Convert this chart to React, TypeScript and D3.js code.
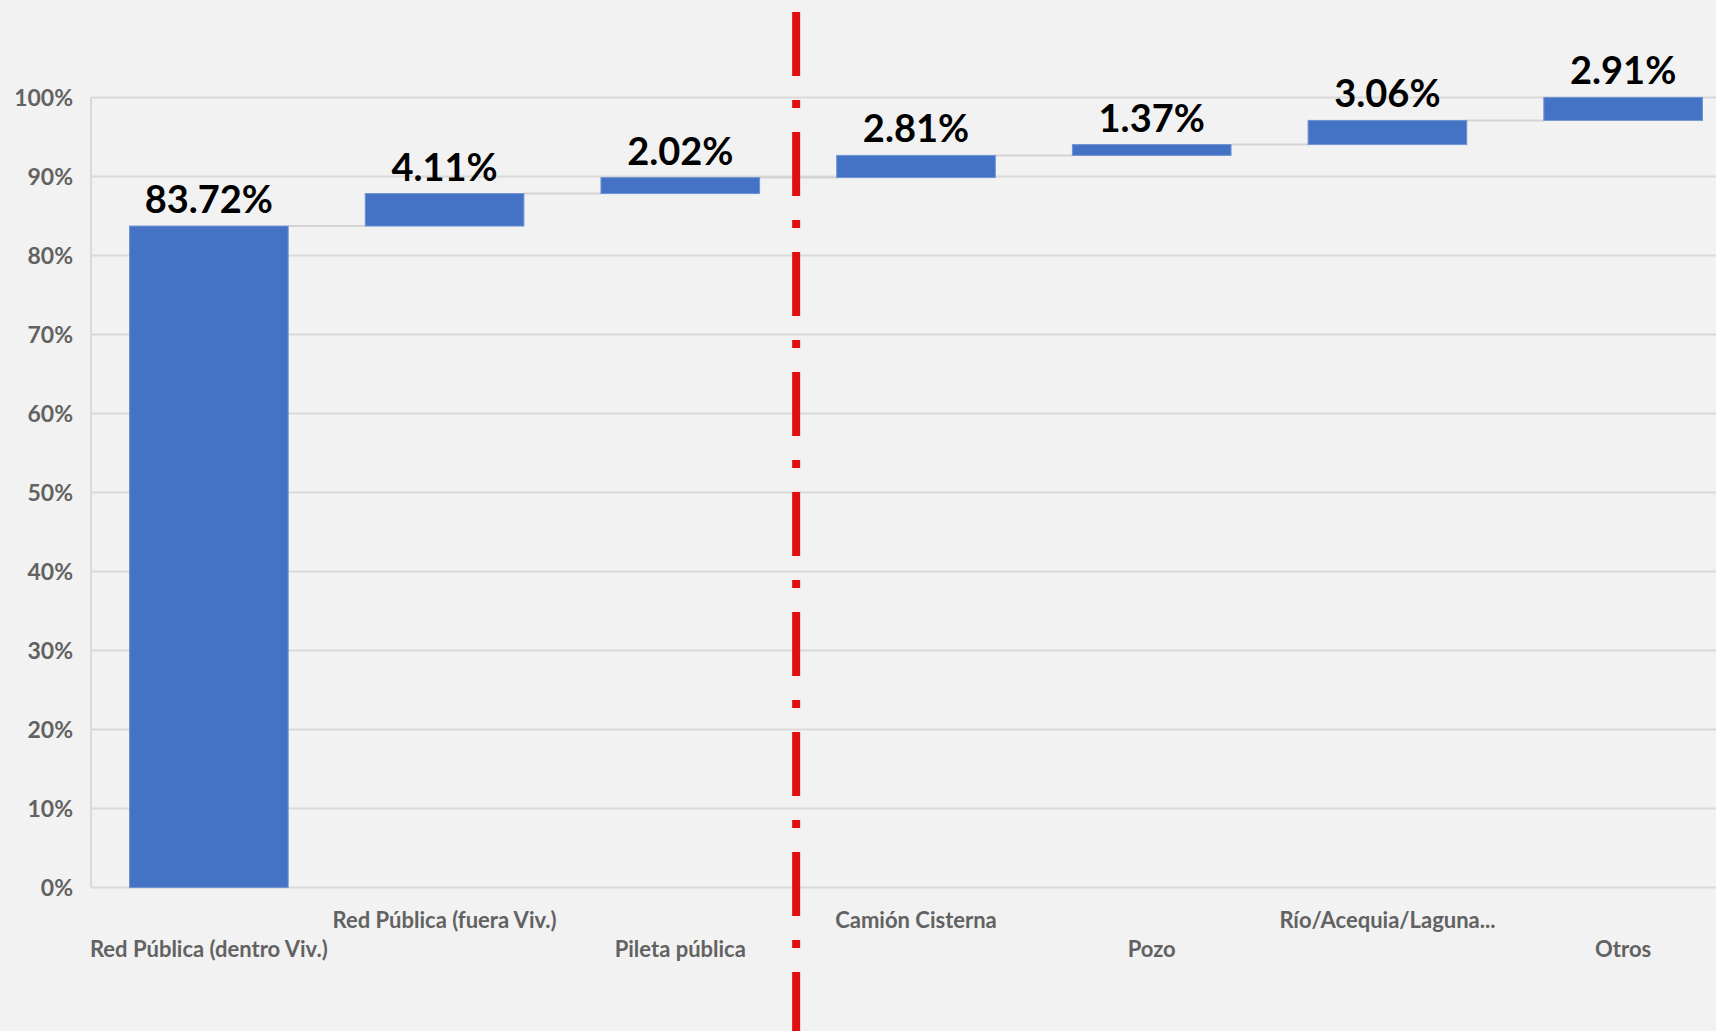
import { useEffect, useRef } from 'react'
import * as d3 from 'd3'

const categories = [
  'Red Pública (dentro Viv.)',
  'Red Pública (fuera Viv.)',
  'Pileta pública',
  'Camión Cisterna',
  'Pozo',
  'Río/Acequia/Laguna...',
  'Otros',
]
const values = [83.72, 4.11, 2.02, 2.81, 1.37, 3.06, 2.91]
const yTicks = [0, 10, 20, 30, 40, 50, 60, 70, 80, 90, 100]

const WIDTH = 1716
const HEIGHT = 1031

export default function App() {
  const svgRef = useRef<SVGSVGElement | null>(null)

  useEffect(() => {
    document.body.style.margin = '0'
    const svgElement = svgRef.current
    if (!svgElement) return

    const svg = d3.select(svgElement)
    svg.selectAll('*').remove()

    const font = 'Lato, "Open Sans", sans-serif'
    const plot = { left: 91, right: 1741, top: 97.4, bottom: 887.6 }

    svg.append('rect').attr('width', WIDTH).attr('height', HEIGHT).attr('fill', '#f2f2f2')

    const x = d3
      .scaleBand<string>()
      .domain(categories)
      .range([plot.left, plot.right])
      .paddingInner(0.327)
      .paddingOuter(0.1635)

    const y = d3.scaleLinear().domain([0, 100]).range([plot.bottom, plot.top])

    // running totals for the waterfall
    const steps = values.map((v, i) => {
      const start = d3.sum(values.slice(0, i))
      return { cat: categories[i], value: v, start, end: start + v }
    })

    // gridlines
    svg
      .append('g')
      .selectAll('line')
      .data(yTicks)
      .join('line')
      .attr('x1', plot.left)
      .attr('x2', plot.right)
      .attr('y1', (d) => y(d))
      .attr('y2', (d) => y(d))
      .attr('stroke', '#d9d9d9')
      .attr('stroke-width', 2)

    svg
      .append('line')
      .attr('x1', plot.left)
      .attr('x2', plot.left)
      .attr('y1', y(100))
      .attr('y2', y(0))
      .attr('stroke', '#d9d9d9')
      .attr('stroke-width', 2)

    // y tick labels
    svg
      .append('g')
      .selectAll('text')
      .data(yTicks)
      .join('text')
      .attr('x', 73)
      .attr('y', (d) => y(d))
      .attr('dy', '0.36em')
      .attr('text-anchor', 'end')
      .attr('font-family', font)
      .attr('font-weight', 700)
      .attr('font-size', 23)
      .attr('fill', '#626262')
      .text((d) => `${d}%`)

    // connectors between bars
    svg
      .append('g')
      .selectAll('line')
      .data(steps.slice(0, -1))
      .join('line')
      .attr('x1', (d) => (x(d.cat) ?? 0) + x.bandwidth())
      .attr('x2', (_, i) => x(categories[i + 1]) ?? 0)
      .attr('y1', (d) => y(d.end))
      .attr('y2', (d) => y(d.end))
      .attr('stroke', '#d4d4d4')
      .attr('stroke-width', 2)

    // bars
    svg
      .append('g')
      .selectAll('rect')
      .data(steps)
      .join('rect')
      .attr('x', (d) => x(d.cat) ?? 0)
      .attr('width', x.bandwidth())
      .attr('y', (d) => y(d.end))
      .attr('height', (d) => y(d.start) - y(d.end))
      .attr('fill', '#4472c4')
      .attr('stroke', '#6f93d3')
      .attr('stroke-width', 1)

    // data labels
    svg
      .append('g')
      .selectAll('text')
      .data(steps)
      .join('text')
      .attr('x', (d) => (x(d.cat) ?? 0) + x.bandwidth() / 2)
      .attr('y', (d) => y(d.end) - 13)
      .attr('text-anchor', 'middle')
      .attr('font-family', font)
      .attr('font-weight', 700)
      .attr('font-size', 38)
      .attr('fill', '#000')
      .text((d) => `${d.value.toFixed(2)}%`)

    // category labels, staggered on two rows
    svg
      .append('g')
      .selectAll('text')
      .data(categories)
      .join('text')
      .attr('x', (d) => (x(d) ?? 0) + x.bandwidth() / 2)
      .attr('y', (_, i) => (i % 2 === 1 ? 928 : 957))
      .attr('text-anchor', 'middle')
      .attr('font-family', font)
      .attr('font-weight', 700)
      .attr('font-size', 22)
      .attr('fill', '#626262')
      .text((d) => d)

    // red dash-dot divider between "Pileta pública" and "Camión Cisterna"
    const dividerX = (x(categories[3]) ?? 0) - (x.step() - x.bandwidth()) / 2 - 2
    svg
      .append('line')
      .attr('x1', dividerX)
      .attr('x2', dividerX)
      .attr('y1', 12)
      .attr('y2', HEIGHT)
      .attr('stroke', '#e01010')
      .attr('stroke-width', 8)
      .attr('stroke-dasharray', '64 24 8 24')
  }, [])

  return <svg ref={svgRef} width={WIDTH} height={HEIGHT} style={{ display: 'block' }} />
}
